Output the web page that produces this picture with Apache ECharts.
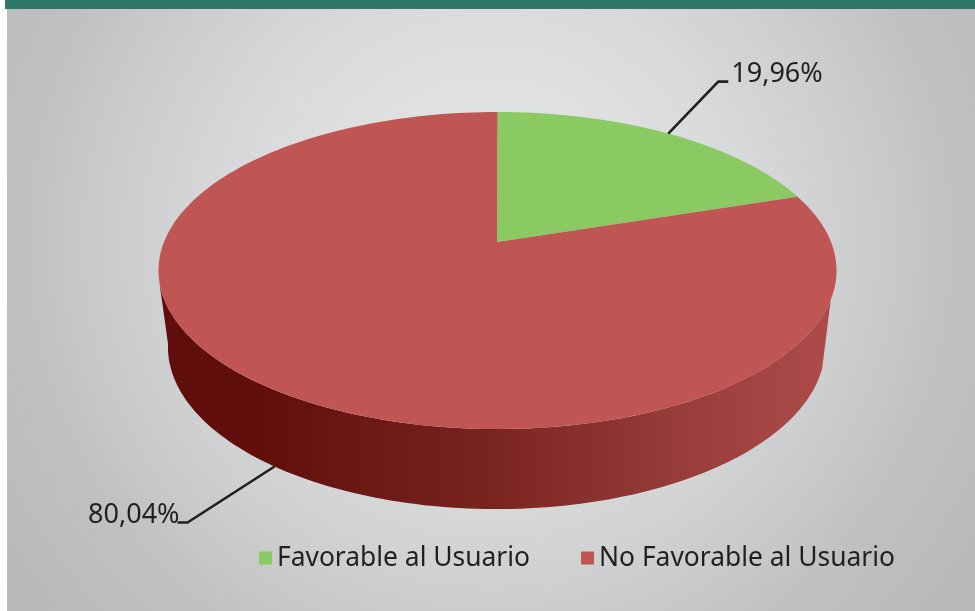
<!DOCTYPE html>
<html>
<head>
<meta charset="utf-8">
<style>html,body{margin:0;padding:0;background:#fff}#c{width:975px;height:611px}</style>
<script src="https://cdn.jsdelivr.net/npm/echarts@6/dist/echarts.min.js"></script>
</head>
<body>
<div id="c"></div>
<script>
const categories = ['Favorable al Usuario', 'No Favorable al Usuario'];
const values = [19.96, 80.04];
const valueLabels = ['19,96%', '80,04%'];
const colors = ['#8bc962', '#bf5654'];

const FONT = '"Noto Sans", sans-serif';
const total = values.reduce((a, b) => a + b, 0);
// Perspective disc
const P = {cx: 497.5, cy: 242, a: 333.5, b: 153.4, k: -0.18};
const wallScale = {x: 328.5 / 339, y: 162 / 158.5, x0: 496.5, y0: 347, cy0: 270.5};

function topPt(theta) {
  const u = Math.sin(theta), v = -Math.cos(theta);
  const d = 1 + P.k * v;
  return [P.cx + P.a * u / d, P.cy + P.b * v / d];
}
function lowPt(theta) {
  const p = topPt(theta);
  return [wallScale.x0 + (p[0] - P.cx) * wallScale.x, wallScale.y0 + (p[1] - wallScale.cy0) * wallScale.y];
}
function arc(fn, t0, t1, n) {
  const out = [];
  for (let i = 0; i <= n; i++) out.push(fn(t0 + (t1 - t0) * i / n));
  return out;
}
function sliceAngles(idx) {
  let s = 0;
  for (let i = 0; i < idx; i++) s += values[i];
  return [s / total * 2 * Math.PI, (s + values[idx]) / total * 2 * Math.PI];
}
const leaders = [
  {from: topPt, dx: 50, dy: -52, tail: 10, tx: 3, ty: -7, align: 'left'},
  {from: lowPt, dx: -87, dy: 56, tail: -10, tx: 2, ty: -7, align: 'right'}
];

function renderSlice(params, api) {
  const idx = params.seriesIndex;
  const [t0, t1] = sliceAngles(idx);
  const children = [];
  if (idx === 1) {
    // Front wall of the disc
    const wall = arc(topPt, 1.93, 4.46, 120).concat(arc(lowPt, 4.55, 1.88, 120));
    children.push({
      type: 'polygon', shape: {points: wall},
      style: {fill: new echarts.graphic.LinearGradient(0, 0, 1, 0, [
        {offset: 0, color: '#5f0e0b'},
        {offset: 0.16, color: '#620f0c'},
        {offset: 0.5, color: '#7a2420'},
        {offset: 0.8, color: '#9a3f3c'},
        {offset: 1, color: '#ad4b49'}
      ])}
    });
  }
  const face = [[P.cx - 0.5, P.cy]].concat(arc(topPt, t0, t1, 180));
  children.push({type: 'polygon', shape: {points: face}, style: {fill: colors[idx]}});
  // leader + label
  const L = leaders[idx];
  const mid = (t0 + t1) / 2;
  const s = L.from(mid);
  const e = [s[0] + L.dx, s[1] + L.dy];
  const f = [e[0] + L.tail, e[1]];
  children.push({
    type: 'polyline', shape: {points: [s, e, f]},
    style: {stroke: '#231f20', lineWidth: 2.6, fill: null}
  });
  children.push({
    type: 'text',
    style: {
      text: valueLabels[idx], x: f[0] + L.tx, y: f[1] + L.ty,
      fill: '#231f20', font: '27px ' + FONT, align: L.align, verticalAlign: 'middle'
    }
  });
  return {type: 'group', children};
}

const chart = echarts.init(document.getElementById('c'), null, {renderer: 'canvas'});
chart.setOption({
  animation: false,
  tooltip: {show: false},
  graphic: [
    {type: 'rect', z: -2, shape: {x: 7, y: 0, width: 968, height: 611}, silent: true,
     style: {fill: new echarts.graphic.RadialGradient(490, 240, 590, [
       {offset: 0, color: '#e8e9eb'},
       {offset: 0.4, color: '#dadbdd'},
       {offset: 0.6, color: '#cecfd1'},
       {offset: 0.8, color: '#bfc0c2'},
       {offset: 1, color: '#b8b9bb'}
     ], true)}},
    {type: 'rect', z: -1, shape: {x: 5, y: 0, width: 970, height: 9}, silent: true, style: {fill: '#2f7869'}}
  ],
  legend: {
    left: 259, top: 545, padding: 0, itemWidth: 13, itemHeight: 13, itemGap: 51, icon: 'rect',
    selectedMode: false,
    textStyle: {fontFamily: FONT, fontSize: 26.4, color: '#231f20', padding: [0, 0, 0, 0]},
    data: categories
  },
  series: categories.map((name, i) => ({
    type: 'custom', name, coordinateSystem: 'none', silent: true,
    itemStyle: {color: colors[i]},
    renderItem: renderSlice,
    data: [values[i]]
  }))
});
</script>
</body>
</html>
